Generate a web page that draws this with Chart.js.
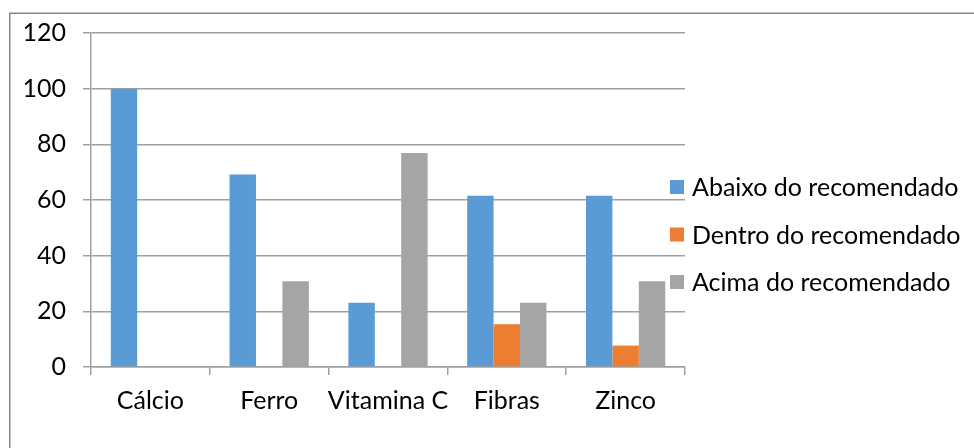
<!DOCTYPE html>
<html>
<head>
<meta charset="utf-8">
<script src="https://cdn.jsdelivr.net/npm/chart.js@4"></script>
<style>
  html, body { margin: 0; padding: 0; background: #fff; }
  #wrap { width: 974px; height: 448px; position: relative; }
</style>
</head>
<body>
<div id="wrap"><canvas id="c" width="974" height="448"></canvas></div>
<script>
// Nutrient categories and the share (%) of people in each intake band
const categories = ['Cálcio', 'Ferro', 'Vitamina C', 'Fibras', 'Zinco'];
const seriesNames = ['Abaixo do recomendado', 'Dentro do recomendado', 'Acima do recomendado'];
const abaixo = [100, 69.2, 23.1, 61.5, 61.5];
const dentro = [0, 0, 0, 15.4, 7.7];
const acima = [0, 30.8, 76.9, 23.1, 30.8];
const yTicks = [0, 20, 40, 60, 80, 100, 120];

const colors = ['#5B9BD5', '#ED7D31', '#A5A5A5'];
const FONT = 'Lato, "Open Sans", sans-serif';
const FONT_SIZE = 25;

// Outer frame of the chart
const framePlugin = {
  id: 'frame',
  beforeDraw(chart) {
    const ctx = chart.ctx;
    ctx.save();
    ctx.fillStyle = '#fff';
    ctx.fillRect(0, 0, chart.width, chart.height);
    ctx.strokeStyle = '#898989';
    ctx.lineWidth = 1.5;
    ctx.beginPath();
    ctx.moveTo(9.75, chart.height);
    ctx.lineTo(9.75, 13.25);
    ctx.lineTo(chart.width, 13.25);
    ctx.stroke();
    ctx.restore();
  }
};

// Legend drawn to the right of the plot
const sideLegend = {
  id: 'sideLegend',
  afterDraw(chart) {
    const ctx = chart.ctx;
    ctx.save();
    ctx.font = FONT_SIZE + 'px ' + FONT;
    ctx.textBaseline = 'middle';
    ctx.textAlign = 'left';
    const x0 = 670, y0 = 187, step = 47.5, box = 14;
    chart.data.datasets.forEach((ds, i) => {
      const cy = y0 + i * step;
      ctx.fillStyle = ds.backgroundColor;
      ctx.fillRect(x0, cy - box / 2, box, box);
      ctx.fillStyle = '#000';
      ctx.fillText(ds.label, x0 + 22, cy + 1);
    });
    ctx.restore();
  }
};

new Chart(document.getElementById('c'), {
  type: 'bar',
  data: {
    labels: categories,
    datasets: [
      { label: seriesNames[0], data: abaixo, backgroundColor: colors[0] },
      { label: seriesNames[1], data: dentro, backgroundColor: colors[1] },
      { label: seriesNames[2], data: acima, backgroundColor: colors[2] }
    ]
  },
  options: {
    responsive: false,
    animation: false,
    devicePixelRatio: 1,
    layout: { padding: { left: 0, top: 33, right: 289, bottom: 0 } },
    datasets: { bar: { categoryPercentage: 0.667, barPercentage: 1.0, borderWidth: 0 } },
    plugins: { legend: { display: false }, tooltip: { enabled: false } },
    scales: {
      x: {
        grid: { display: true, drawOnChartArea: false, drawTicks: true, tickLength: 8, color: '#a0a0a0', lineWidth: 1.5, offset: true },
        border: { display: true, color: '#a0a0a0', width: 1.5 },
        ticks: { color: '#000', font: { family: FONT, size: FONT_SIZE }, padding: 11, maxRotation: 0, minRotation: 0, autoSkip: false },
        afterFit(scale) { scale.height = 81; }
      },
      y: {
        min: 0, max: 120,
        afterBuildTicks(scale) { scale.ticks = yTicks.map(v => ({ value: v })); },
        grid: { color: '#a0a0a0', lineWidth: 1.5, tickLength: 8, drawTicks: true },
        border: { display: true, color: '#a0a0a0', width: 1.5 },
        ticks: { color: '#000', font: { family: FONT, size: FONT_SIZE }, padding: 17 },
        afterFit(scale) { scale.width = 91; }
      }
    }
  },
  plugins: [framePlugin, sideLegend]
});
</script>
</body>
</html>
